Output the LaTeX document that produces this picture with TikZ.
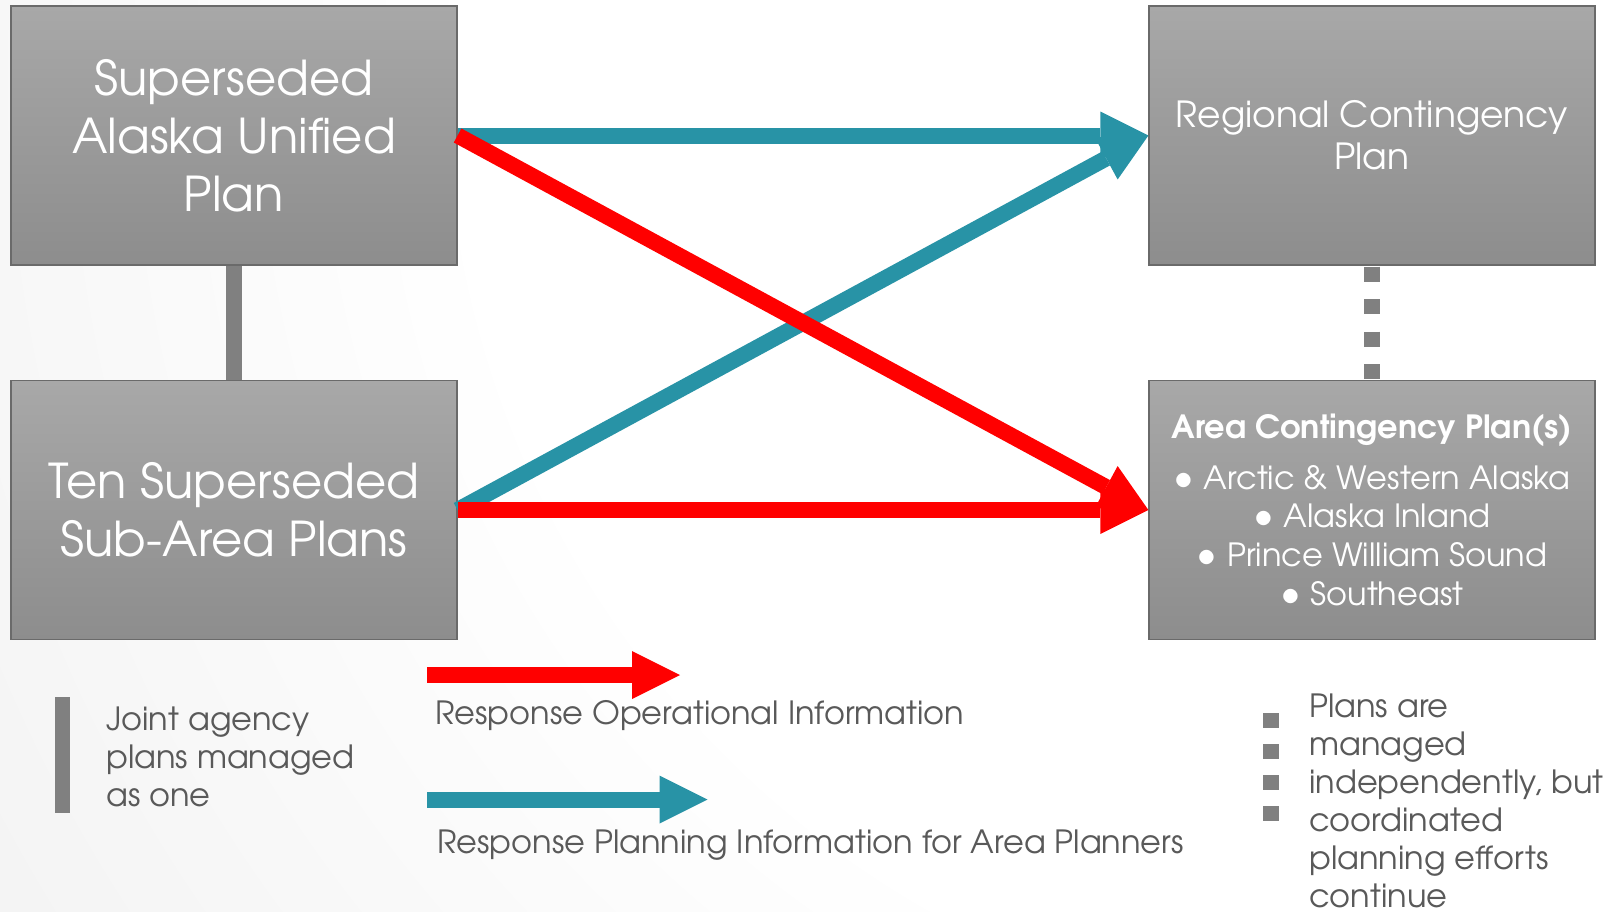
\documentclass[tikz,border=0pt]{standalone}
\usepackage{fontspec}
\setmainfont{TeX Gyre Adventor}
\usetikzlibrary{arrows.meta}
\definecolor{tealc}{HTML}{2893A6}
\definecolor{redc}{HTML}{FF0000}
\definecolor{boxtop}{HTML}{A8A8A8}
\definecolor{boxbot}{HTML}{8D8D8D}
\definecolor{boxline}{HTML}{6A6A6A}
\definecolor{barc}{HTML}{808080}
\definecolor{legtext}{HTML}{595959}
\definecolor{bgout}{HTML}{D9D9D9}
\pgfdeclareradialshading{bgshade}{\pgfpoint{0bp}{0bp}}{color(0bp)=(white); color(7bp)=(white); color(25bp)=(bgout); color(50bp)=(bgout)}
\newcommand{\blt}{\raisebox{-1pt}{\fontsize{40}{38.7}\selectfont •}\hspace{0.3em}}
\tikzset{
  planbox/.style={draw=boxline, line width=1.2pt, top color=boxtop, bottom color=boxbot,
    minimum width=446pt, minimum height=259pt, inner sep=0pt, align=center, text=white},
  bigtxt/.style={font=\fontsize{48}{58}\selectfont},
  midtxt/.style={font=\fontsize{36}{42}\selectfont},
  areatxt/.style={font=\fontsize{32}{38.7}\selectfont},
  legtxt/.style={text=legtext, font=\fontsize{32}{38}\selectfont, inner sep=0pt, align=left},
  barline/.style={draw=barc, line width=16pt},
  redarr/.style={draw=redc, line width=16pt, -{Triangle[length=48pt,width=48pt,line width=0pt]}},
  tealarr/.style={draw=tealc, line width=16pt, -{Triangle[length=48pt,width=48pt,line width=0pt]}},
  sqbullet/.style={fill=barc, minimum width=16pt, minimum height=15pt, inner sep=0pt},
}
\begin{document}
\begin{tikzpicture}[x=1pt,y=-1pt]
\useasboundingbox (0,0) rectangle (1617,911);
\begin{scope}
\clip (0,0) rectangle (1617,911);
\shade[shading=bgshade] (1400,80) circle (3300);
\end{scope}
% boxes
\node[planbox, bigtxt] (b1) at (234,135.5) {Superseded\\Alaska Unified\\Plan};
\node[planbox, bigtxt] (b4) at (234,510) {Ten Superseded\\Sub-Area Plans};
\node[planbox, midtxt] (b2) at (1372,135.5) {Regional Contingency\\Plan};
\node[planbox, areatxt] (b3) at (1372,510) {\textbf{Area Contingency Plan(s)}\\[12pt]
  \blt Arctic \& Western Alaska\\\blt Alaska Inland\\\blt Prince William Sound\\\blt Southeast};
% connectors between boxes
\draw[barline] (b1.south) -- (b4.north);
\draw[barline, dash pattern=on 15pt off 17.5pt] ([yshift=-1pt]b2.south) -- (b3.north);
% information arrows
\draw[tealarr] (b1.east) -- (b2.west);
\draw[tealarr] (b4.east) -- (b2.west);
\draw[redarr] (b1.east) -- (b3.west);
\draw[redarr] (b4.east) -- (b3.west);
% legend
\node[fill=barc, minimum width=15pt, minimum height=116pt, inner sep=0pt] (legbar) at (62.5,755) {};
\node[legtxt, anchor=base west] (jt) at (106,806) {Joint agency\\plans managed\\as one};
\coordinate (lr1) at (427,675);
\coordinate (lr2) at (680,675);
\draw[redarr] (lr1) -- (lr2);
\node[legtxt, anchor=base west] (lrt) at (435,724) {Response Operational Information};
\coordinate (lt1) at (427,799.5);
\coordinate (lt2) at (707.5,799.5);
\draw[tealarr] (lt1) -- (lt2);
\node[legtxt, anchor=base west] (ltt) at (437,853) {Response Planning Information for Area Planners};
\node[sqbullet] (s1) at (1271,720) {};
\node[sqbullet] (s2) at (1271,751) {};
\node[sqbullet] (s3) at (1271,782) {};
\node[sqbullet] (s4) at (1271,813) {};
\node[legtxt, anchor=base west] (pt) at (1309,907) {Plans are\\managed\\independently, but\\coordinated\\planning efforts\\continue};
\end{tikzpicture}
\end{document}
